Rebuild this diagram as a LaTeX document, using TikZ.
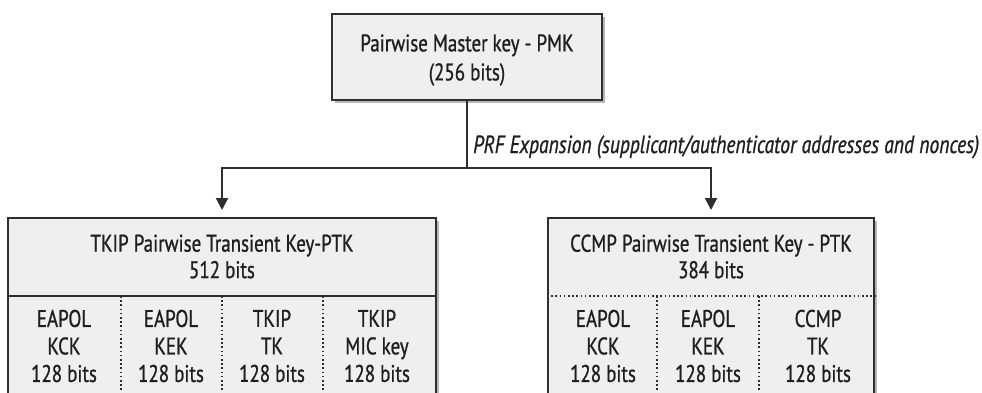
\documentclass[tikz,border=0pt]{standalone}
\usepackage{fontspec}
\setmainfont{PT Sans}[FakeStretch=0.79, FakeBold=0.9]
\usetikzlibrary{arrows.meta, positioning, shadows}
\definecolor{boxfill}{HTML}{EFEFEF}
\definecolor{boxline}{HTML}{2E2E2E}
\newcommand{\keysize}{\fontsize{24}{27.5}\selectfont}
\newcommand{\prfsize}{\fontsize{24.8}{28}\selectfont}

\begin{document}
\begin{tikzpicture}[
    x=1pt, y=-1pt,
    every node/.style={font=\keysize, align=center, inner sep=0pt, text=black!88},
    keybox/.style={draw=boxline, line width=2pt, fill=boxfill,
      drop shadow={shadow xshift=3pt, shadow yshift=-3pt, fill=black!28, opacity=1}},
    celldiv/.style={boxline, line width=1.6pt, dash pattern=on 1.6pt off 2.6pt},
    keyline/.style={boxline, line width=2pt},
    keyarrow/.style={keyline, shorten >=7pt, -{Triangle[width=12pt, length=12pt]}}
  ]
  \useasboundingbox (0,0) rectangle (982,392);
  \clip (0,0) rectangle (982,392);

  % master key
  \node[keybox, minimum width=270pt, minimum height=86pt] (pmk) at (467,57) {};
  \node (pmktext) at (467,60) {Pairwise Master key - PMK\\[1.5pt](256 bits)};

  % transient keys
  \node[keybox, minimum width=428pt, minimum height=220pt, anchor=north] (tkip) at (222,217) {};
  \node[keybox, minimum width=326pt, minimum height=220pt, anchor=north] (ccmp) at (711,217) {};
  \node (tkiphead) at (222,256.5) {TKIP Pairwise Transient Key-PTK\\[-1pt]512 bits};
  \node (ccmphead) at (711,256.5) {CCMP Pairwise Transient Key - PTK\\[-1pt]384 bits};
  \draw[keyline] ([yshift=-79pt]tkip.north west) -- ([yshift=-79pt]tkip.north east);
  \draw[celldiv] ([yshift=-79pt]ccmp.north west) -- ([yshift=-79pt]ccmp.north east);
  \foreach \x in {121,222,323} \draw[celldiv] (\x,296) -- (\x,392);
  \foreach \x in {657,759} \draw[celldiv] (\x,296) -- (\x,392);

  % key fields
  \foreach \x/\name/\lbl in {64/kck/{EAPOL\\KCK}, 171/kek/{EAPOL\\KEK},
      272/tk/{TKIP\\TK}, 377/mic/{TKIP\\MIC key}}
    \node (tkip-\name) at (\x,346) {\lbl\\128 bits};
  \foreach \x/\name/\lbl in {603/kck/{EAPOL\\KCK}, 708/kek/{EAPOL\\KEK},
      818/tk/{CCMP\\TK}}
    \node (ccmp-\name) at (\x,346) {\lbl\\128 bits};

  % expansion
  \coordinate (split) at (467,168);
  \draw[keyline] (pmk.south) -- (split);
  \draw[keyarrow] (split) -| (tkip.north);
  \draw[keyarrow] (split) -| (ccmp.north);
  \node[font=\prfsize\itshape, anchor=base west] (prf) at (473,153)
    {PRF Expansion (supplicant/authenticator addresses and nonces)};
\end{tikzpicture}
\end{document}
